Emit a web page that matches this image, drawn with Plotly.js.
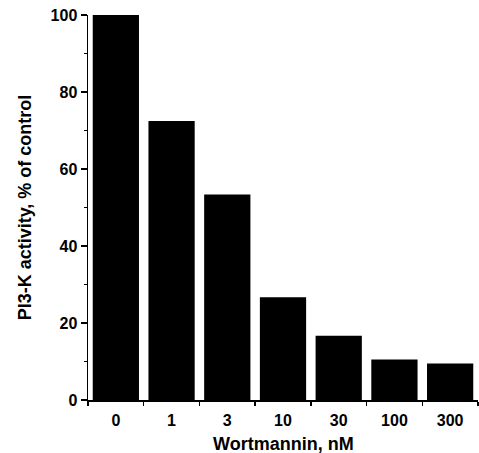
<!DOCTYPE html>
<html>
<head>
<meta charset="utf-8">
<script src="https://cdn.plot.ly/plotly-3.0.1.min.js"></script>
<style>html,body{margin:0;padding:0;background:#fff;}#chart{width:479px;height:453px;}</style>
</head>
<body>
<div id="chart"></div>
<script>
const categories = ["0", "1", "3", "10", "30", "100", "300"];
const activity = [100, 72.5, 53.4, 26.7, 16.7, 10.5, 9.5];
const yTicks = [0, 20, 40, 60, 80, 100];
const xTitle = "Wortmannin, nM";
const yTitle = "PI3-K activity, % of control";

const font = "Liberation Sans, Arial, Helvetica, sans-serif";

const trace = {
  type: "bar",
  x: categories,
  y: activity,
  marker: {color: "#000", line: {width: 0}},
  hoverinfo: "skip"
};

const layout = {
  width: 479,
  height: 453,
  margin: {l: 88, r: 1, t: 15, b: 53},
  paper_bgcolor: "#fff",
  plot_bgcolor: "#fff",
  bargap: 0.17,
  showlegend: false,
  font: {family: font, color: "#000"},
  xaxis: {
    type: "category",
    tickson: "boundaries",
    ticks: "outside",
    ticklen: 4,
    tickwidth: 1.5,
    tickcolor: "#000",
    ticklabelstandoff: 5,
    showline: true,
    linecolor: "#000",
    linewidth: 1.5,
    showgrid: false,
    zeroline: false,
    tickfont: {family: font, size: 16, weight: "bold", color: "#000"},
    automargin: false
  },
  yaxis: {
    range: [0, 100],
    tickvals: yTicks,
    ticktext: yTicks.map(String),
    ticks: "outside",
    ticklen: 6,
    tickwidth: 1.5,
    tickcolor: "#000",
    minor: {dtick: 10, ticks: "outside", ticklen: 3, tickwidth: 1.2, tickcolor: "#000"},
    showline: true,
    linecolor: "#000",
    linewidth: 1.5,
    showgrid: false,
    zeroline: false,
    tickfont: {family: font, size: 16, weight: "bold", color: "#000"},
    title: {text: "<b>" + yTitle + "</b>", font: {family: font, size: 18, color: "#000"}, standoff: 14},
    automargin: false
  },
  annotations: [{
    text: "<b>" + xTitle + "</b>",
    xref: "paper", yref: "paper",
    x: 0.5, y: -0.114,
    xanchor: "center", yanchor: "middle",
    showarrow: false,
    font: {family: font, size: 18, color: "#000"}
  }]
};

Plotly.newPlot("chart", [trace], layout, {displayModeBar: false, staticPlot: true});
</script>
</body>
</html>
